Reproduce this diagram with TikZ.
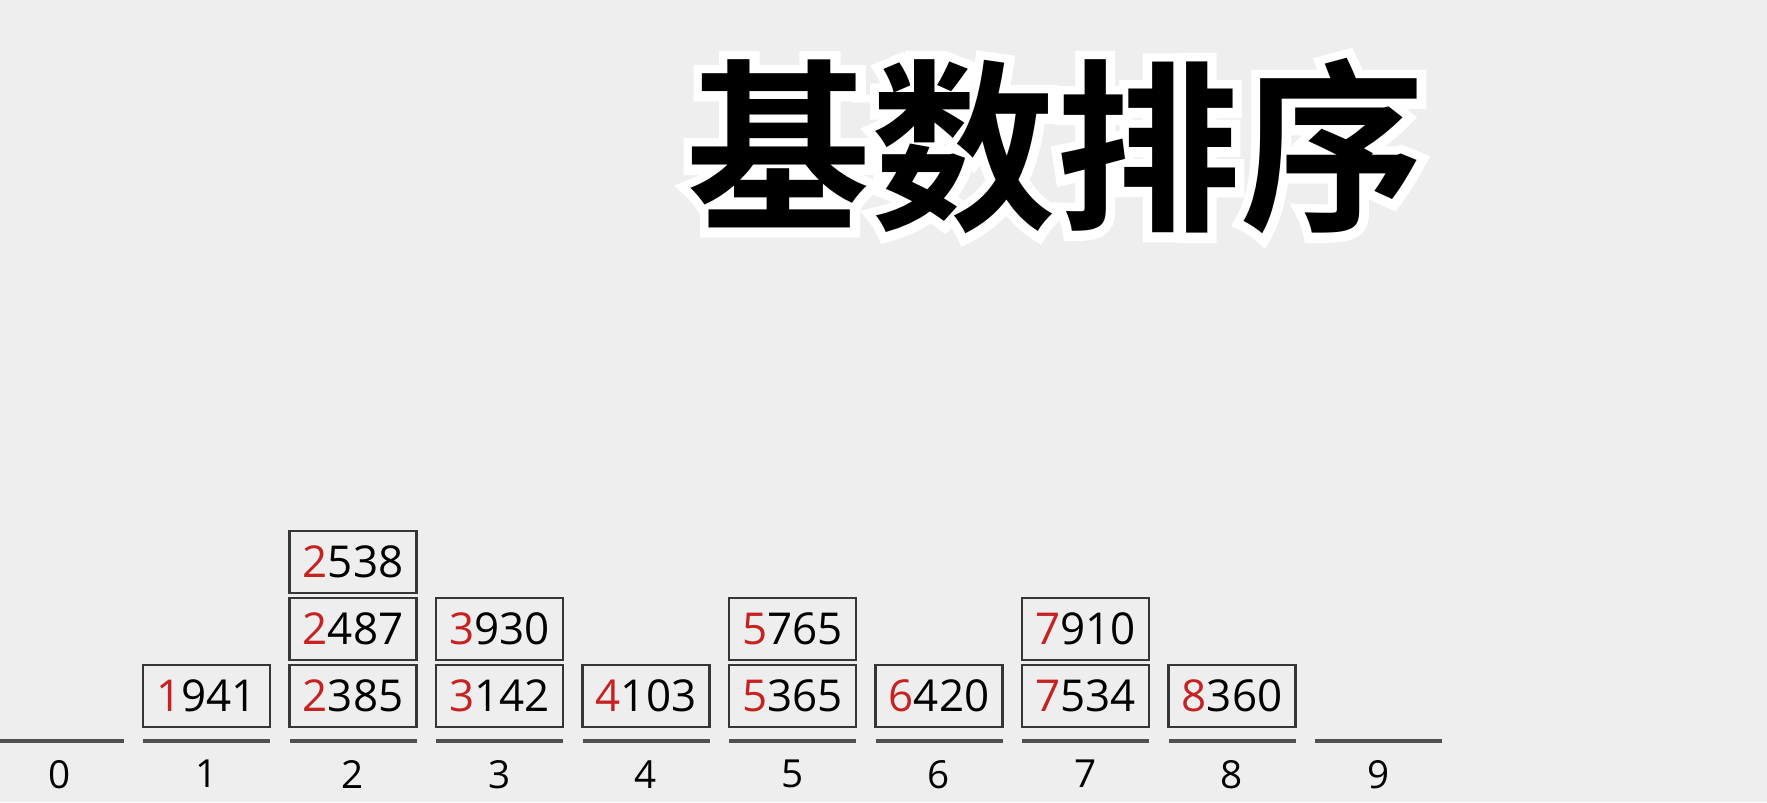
\documentclass[tikz,border=0pt]{standalone}
\usepackage{fontspec}
\usepackage{tikz}
\usetikzlibrary{positioning}
\setmainfont{Open Sans}
\newfontfamily\cjk{Noto Sans CJK SC Bold}
\newfontfamily\cjkrim{Noto Sans CJK SC Bold}[FakeBold=10]
\definecolor{bggray}{HTML}{EEEEEE}
\definecolor{digitred}{HTML}{C62222}
\definecolor{linegray}{HTML}{505050}
\definecolor{boxgray}{HTML}{363636}
\tikzset{
    numbox/.style={rectangle, minimum width=2.54cm, minimum height=1.24cm, inner sep=0pt, outer sep=0pt, draw=boxgray, line width=1.2pt, font=\fontsize{25}{25}\selectfont},
    bucket/.style={rectangle, minimum width=2.54cm, minimum height=0pt, inner sep=0pt, outer sep=0pt},
    bucketlabel/.style={inner sep=0pt, font=\fontsize{22}{22}\selectfont},
    baseline/.style={draw=linegray, line width=2pt},
    titletext/.style={inner sep=0pt, font=\cjk\fontsize{105}{105}\selectfont},
    titlerim/.style={inner sep=0pt, text=white, font=\cjkrim\fontsize{105}{105}\selectfont}
}
\newcommand{\hd}[2]{\textcolor{digitred}{#1}#2}

\begin{document}
\begin{tikzpicture}[node distance=0.1cm]
    \fill [bggray] (0,0) rectangle (35.34,16.04);
    \useasboundingbox (0,0) rectangle (35.34,16.04);

    % title with white rim
    \node (rim) [titlerim] at (21.12,13.11) {基数排序};
    \node (title) [titletext] at (21.12,13.11) {基数排序};

    % buckets 0-9
    \foreach \i in {0,...,9}{
        \node (b\i) [bucket] at ({1.2+2.93*\i},1.22) {};
        \draw [baseline] (b\i.west) -- (b\i.east);
        \node (l\i) [bucketlabel, below=0.38cm of b\i] {\i};
    }

    \node (n1941) [numbox, above=0.28cm of b1] {\hd{1}{941}};

    \node (n2385) [numbox, above=0.28cm of b2] {\hd{2}{385}};
    \node (n2487) [numbox, above=of n2385] {\hd{2}{487}};
    \node (n2538) [numbox, above=of n2487] {\hd{2}{538}};

    \node (n3142) [numbox, above=0.28cm of b3] {\hd{3}{142}};
    \node (n3930) [numbox, above=of n3142] {\hd{3}{930}};

    \node (n4103) [numbox, above=0.28cm of b4] {\hd{4}{103}};

    \node (n5365) [numbox, above=0.28cm of b5] {\hd{5}{365}};
    \node (n5765) [numbox, above=of n5365] {\hd{5}{765}};

    \node (n6420) [numbox, above=0.28cm of b6] {\hd{6}{420}};

    \node (n7534) [numbox, above=0.28cm of b7] {\hd{7}{534}};
    \node (n7910) [numbox, above=of n7534] {\hd{7}{910}};

    \node (n8360) [numbox, above=0.28cm of b8] {\hd{8}{360}};
\end{tikzpicture}
\end{document}
